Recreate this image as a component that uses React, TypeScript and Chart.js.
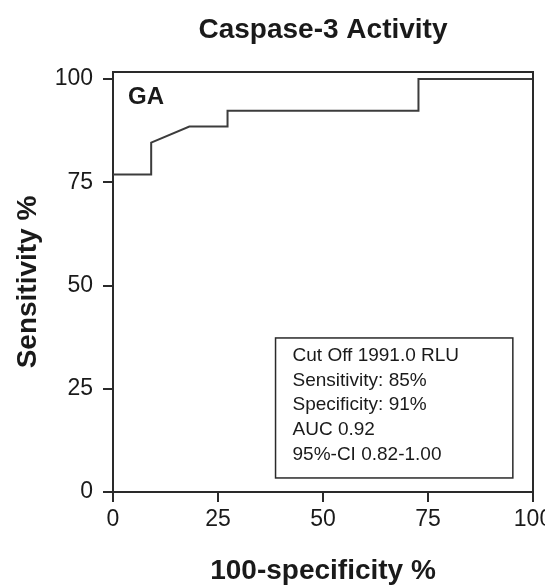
import React, { useEffect, useRef } from 'react';
import { Chart, registerables } from 'chart.js';

Chart.register(...registerables);

// ---- data ----
const fprValues = [0, 9.09, 9.09, 18.18, 27.27, 27.27, 72.73, 72.73, 100];
const sensitivityValues = [76.9, 76.9, 84.6, 88.5, 88.5, 92.3, 92.3, 100, 100];
const axisTicks = [0, 25, 50, 75, 100];
const chartTitle = 'Caspase-3 Activity';
const xTitle = '100-specificity %';
const yTitle = 'Sensitivity %';
const groupLabel = 'GA';
const statLines = [
  'Cut Off 1991.0 RLU',
  'Sensitivity: 85%',
  'Specificity: 91%',
  'AUC 0.92',
  '95%-CI 0.82-1.00',
];

// ---- annotation placement (data units) ----
const groupLabelAt = { x: 3.6, y: 95.5 };
const statBox = { x0: 38.7, x1: 95.2, y0: 3.4, y1: 37.3 };

const FONT = '"Liberation Sans", Arial, Helvetica, sans-serif';
const INK = '#1a1a1a';
const LINE = '#2a2a2a';

const extrasPlugin = {
  id: 'rocExtras',
  afterDatasetsDraw(chart: any) {
    const { ctx, chartArea, scales } = chart;
    const xs = scales.x;
    const ys = scales.y;
    ctx.save();
    // top and right frame
    ctx.strokeStyle = LINE;
    ctx.lineWidth = 2;
    ctx.beginPath();
    ctx.moveTo(chartArea.left, chartArea.top);
    ctx.lineTo(chartArea.right, chartArea.top);
    ctx.lineTo(chartArea.right, chartArea.bottom);
    ctx.stroke();

    // group label
    ctx.font = `bold 24px ${FONT}`;
    ctx.fillStyle = INK;
    ctx.textAlign = 'left';
    ctx.textBaseline = 'middle';
    ctx.fillText(groupLabel, xs.getPixelForValue(groupLabelAt.x), ys.getPixelForValue(groupLabelAt.y));

    // stats box
    const bx0 = xs.getPixelForValue(statBox.x0);
    const bx1 = xs.getPixelForValue(statBox.x1);
    const by0 = ys.getPixelForValue(statBox.y1);
    const by1 = ys.getPixelForValue(statBox.y0);
    ctx.fillStyle = '#ffffff';
    ctx.fillRect(bx0, by0, bx1 - bx0, by1 - by0);
    ctx.strokeStyle = LINE;
    ctx.lineWidth = 1.5;
    ctx.strokeRect(bx0, by0, bx1 - bx0, by1 - by0);
    ctx.font = `19px ${FONT}`;
    ctx.fillStyle = INK;
    ctx.textBaseline = 'middle';
    const lineGap = 24.6;
    statLines.forEach((t, i) => {
      ctx.fillText(t, bx0 + 17, by0 + 18 + i * lineGap);
    });
    ctx.restore();
  },
};

export default function App() {
  const ref = useRef<HTMLCanvasElement | null>(null);

  useEffect(() => {
    if (!ref.current) return;
    const points = fprValues.map((x, i) => ({ x, y: sensitivityValues[i] }));
    const tickFont = { family: FONT, size: 23 };
    const chart = new Chart(ref.current, {
      type: 'line',
      data: {
        datasets: [
          {
            label: groupLabel,
            data: points,
            borderColor: '#3c3c3c',
            borderWidth: 2,
            pointRadius: 0,
            fill: false,
            tension: 0,
          },
        ],
      },
      options: {
        responsive: false,
        animation: false,
        layout: { padding: { left: 0, right: 12, top: 0, bottom: 0 } },
        plugins: {
          legend: { display: false },
          tooltip: { enabled: false },
          title: {
            display: true,
            text: chartTitle,
            fullSize: false,
            color: INK,
            font: { family: FONT, size: 28, weight: 'bold' },
            padding: { top: 13, bottom: 25.4 },
          },
        },
        scales: {
          x: {
            type: 'linear',
            min: 0,
            max: 100,
            afterBuildTicks: (s: any) => {
              s.ticks = axisTicks.map((v) => ({ value: v }));
            },
            afterFit: (s: any) => {
              s.height = 96;
              s.paddingLeft = 0;
              s.paddingRight = 0;
            },
            border: { display: true, color: LINE, width: 2 },
            grid: {
              display: true,
              drawOnChartArea: false,
              drawTicks: true,
              tickLength: 10,
              color: LINE,
              lineWidth: 2,
            },
            ticks: { color: INK, font: tickFont, padding: 4, maxRotation: 0 },
            title: {
              display: true,
              text: xTitle,
              color: INK,
              font: { family: FONT, size: 28, weight: 'bold' },
              padding: { top: 0, bottom: 0 },
            },
          },
          y: {
            type: 'linear',
            min: 0,
            max: 101.7,
            afterBuildTicks: (s: any) => {
              s.ticks = axisTicks.map((v) => ({ value: v }));
            },
            afterFit: (s: any) => {
              s.width = 113;
              s.paddingTop = 0;
              s.paddingBottom = 0;
            },
            border: { display: true, color: LINE, width: 2 },
            grid: {
              display: true,
              drawOnChartArea: false,
              drawTicks: true,
              tickLength: 10,
              color: LINE,
              lineWidth: 2,
            },
            ticks: { color: INK, font: tickFont, padding: 10 },
            title: {
              display: true,
              text: yTitle,
              color: INK,
              font: { family: FONT, size: 28, weight: 'bold' },
              padding: { top: 11, bottom: 0 },
            },
          },
        },
      },
      plugins: [extrasPlugin],
    });
    return () => chart.destroy();
  }, []);

  return (
    <div style={{ position: 'absolute', left: 0, top: 0, width: 545, height: 588, background: '#fff' }}>
      <canvas ref={ref} width={545} height={588} style={{ display: 'block' }} />
    </div>
  );
}
